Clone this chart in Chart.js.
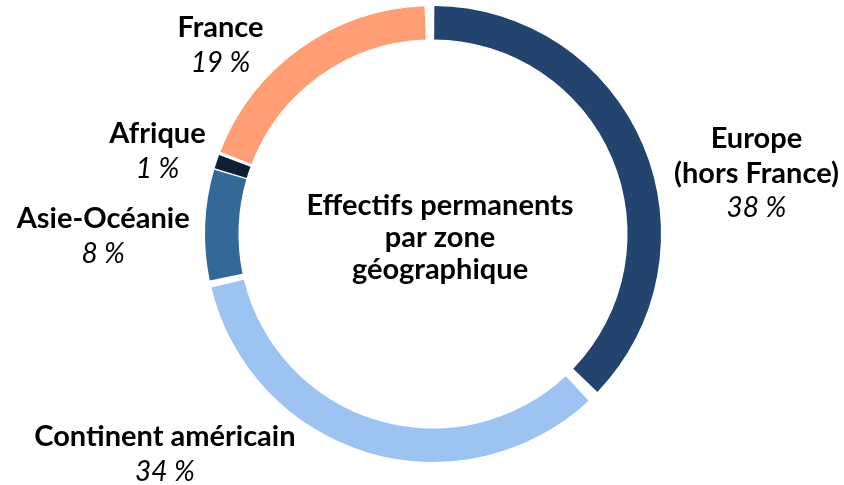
<!DOCTYPE html>
<html>
<head>
<meta charset="utf-8">
<script src="https://cdn.jsdelivr.net/npm/chart.js@4.4.1/dist/chart.umd.min.js"></script>
<style>
  html, body { margin: 0; padding: 0; background: #fff; }
  #wrap { width: 844px; height: 485px; }
</style>
</head>
<body>
<div id="wrap"><canvas id="chart" width="844" height="485"></canvas></div>
<script>
const zones = ["Europe\n(hors France)", "Continent américain", "Asie-Océanie", "Afrique", "France"];
const shares = [38, 34, 8, 1, 19];
const colors = ["#22446f", "#9dc3f2", "#346898", "#0f1f33", "#ff9e74"];
const centerTitle = ["Effectifs permanents", "par zone", "géographique"];

// label shift from each arc's outer mid point
const labelShift = [[118, 26], [-204, 7], [-107, 11], [-64, -12], [-83, -7]];
const FONT = "Lato, 'Open Sans', sans-serif";

const labelPlugin = {
  id: "zoneLabels",
  afterDatasetsDraw(chart) {
    const { ctx } = chart;
    const arcs = chart.getDatasetMeta(0).data;
    ctx.save();
    ctx.textAlign = "center";
    ctx.textBaseline = "middle";
    ctx.fillStyle = "#000";
    arcs.forEach((arc, i) => {
      const mid = (arc.startAngle + arc.endAngle) / 2;
      const x = arc.x + Math.cos(mid) * arc.outerRadius + labelShift[i][0];
      const y = arc.y + Math.sin(mid) * arc.outerRadius + labelShift[i][1];
      const lines = zones[i].split("\n");
      const all = lines.length + 1;
      const lh = 35;
      const top = y - ((all - 1) * lh) / 2;
      ctx.font = "bold 29px " + FONT;
      lines.forEach((l, j) => ctx.fillText(l, x, top + j * lh));
      ctx.font = "italic 28px " + FONT;
      ctx.fillText(shares[i] + "\u202F%", x, top + lines.length * lh);
    });
    // title in the hole
    const c = arcs[0];
    ctx.font = "bold 29px " + FONT;
    centerTitle.forEach((t, j) => ctx.fillText(t, c.x + 7, c.y - 28 + j * 32));
    ctx.restore();
  },
};

const chart = new Chart(document.getElementById("chart"), {
  type: "doughnut",
  data: {
    labels: zones,
    datasets: [
      {
        data: shares,
        backgroundColor: colors,
        borderWidth: 0,
        spacing: 10,
      },
    ],
  },
  options: {
    responsive: false,
    animation: false,
    rotation: -1.3,
    cutout: "85%",
    layout: { padding: { top: 6, bottom: 23, left: 205, right: 183 } },
    plugins: {
      legend: { display: false },
      tooltip: { enabled: false },
    },
  },
  plugins: [labelPlugin],
});
</script>
</body>
</html>
